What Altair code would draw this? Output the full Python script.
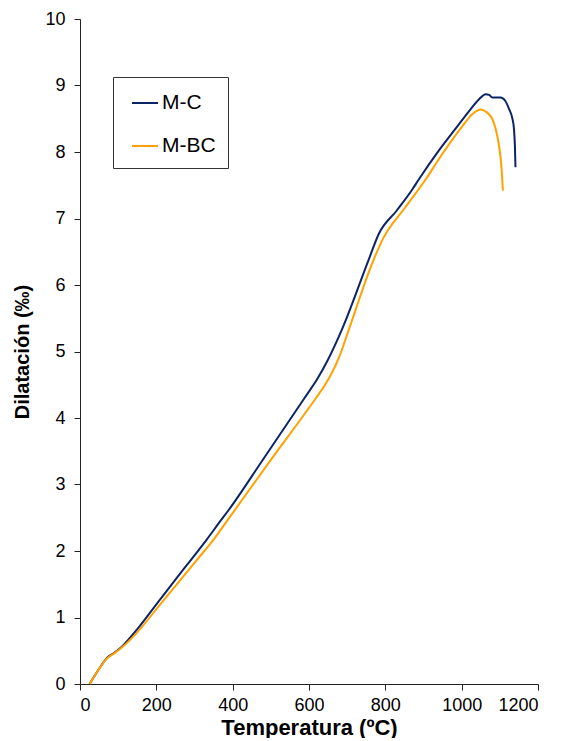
import altair as alt
import pandas as pd

# M-C series (temperature °C, dilatation ‰)
mc_T = [25, 40, 55, 70, 90, 111, 133, 155, 207, 250, 294, 333, 369, 390, 480, 587, 622, 650, 687,
        757, 783, 830, 871, 888, 940, 984, 1020, 1045, 1063, 1072, 1080, 1092, 1102, 1114, 1124,
        1133, 1137, 1139.5, 1141]
mc_D = [0.0, 0.14, 0.27, 0.39, 0.47, 0.57, 0.71, 0.86, 1.25, 1.57, 1.89, 2.18, 2.46, 2.62, 3.38,
        4.29, 4.59, 4.88, 5.34, 6.39, 6.77, 7.12, 7.44, 7.59, 8.02, 8.35, 8.62, 8.79, 8.87, 8.86,
        8.82, 8.82, 8.82, 8.77, 8.65, 8.50, 8.35, 8.09, 7.77]

# M-BC series
mbc_T = [25, 40, 55, 70, 90, 111, 141, 216, 307, 351, 390, 500, 617, 640, 660, 680, 705, 770,
         796, 850, 906, 940, 997, 1030, 1050, 1065, 1080, 1089, 1098, 1104, 1108]
mbc_D = [0.0, 0.14, 0.27, 0.38, 0.46, 0.555, 0.72, 1.24, 1.87, 2.18, 2.49, 3.37, 4.29, 4.48,
         4.68, 4.93, 5.34, 6.39, 6.72, 7.15, 7.59, 7.89, 8.35, 8.58, 8.64, 8.60, 8.50, 8.35,
         8.09, 7.79, 7.42]

series_names = ["M-C", "M-BC"]
series_colors = ["#0B2466", "#FFA200"]
x_ticks = [0, 200, 400, 600, 800, 1000, 1200]
y_ticks = [0, 1, 2, 3, 4, 5, 6, 7, 8, 9, 10]

rows = []
for i, (t, d) in enumerate(zip(mc_T, mc_D)):
    rows.append({"serie": series_names[0], "T": t, "D": d, "o": i})
for i, (t, d) in enumerate(zip(mbc_T, mbc_D)):
    rows.append({"serie": series_names[1], "T": t, "D": d, "o": i})
df = pd.DataFrame(rows)

FONT = "Liberation Sans"

chart = alt.Chart(df).mark_line(strokeWidth=2, interpolate="monotone").encode(
    x=alt.X("T:Q", scale=alt.Scale(domain=[0, 1200], nice=False),
            axis=alt.Axis(values=x_ticks, format="d", title="Temperatura (ºC)", grid=False,
                          tickSize=6, labelPadding=6, titlePadding=3, titleFontSize=22)),
    y=alt.Y("D:Q", scale=alt.Scale(domain=[0, 10], nice=False),
            axis=alt.Axis(values=y_ticks, title="Dilatación (‰)", grid=False,
                          tickSize=6, labelPadding=9, titlePadding=12, titleFontSize=20)),
    color=alt.Color("serie:N", title=None,
                    scale=alt.Scale(domain=series_names, range=series_colors),
                    legend=alt.Legend(orient="none", legendX=33, legendY=58,
                                      strokeColor="#333333", fillColor="white",
                                      padding=12, symbolType="stroke", symbolSize=676,
                                      symbolStrokeWidth=2, symbolOffset=6,
                                      labelFontSize=21, labelFont=FONT, labelColor="black",
                                      labelOffset=3, rowPadding=19)),
    order="o:Q",
).properties(
    width=458, height=665,
    padding={"left": 4, "top": 2, "right": 0, "bottom": 0},
).configure_view(stroke=None).configure_axis(
    labelFont=FONT, labelFontSize=18, labelColor="black",
    titleFont=FONT, titleFontWeight="bold", titleColor="black",
    domainColor="#222222", tickColor="#222222", domainWidth=1, tickWidth=1,
)

chart.save("out.html", embed_options={"renderer": "svg", "actions": False})
